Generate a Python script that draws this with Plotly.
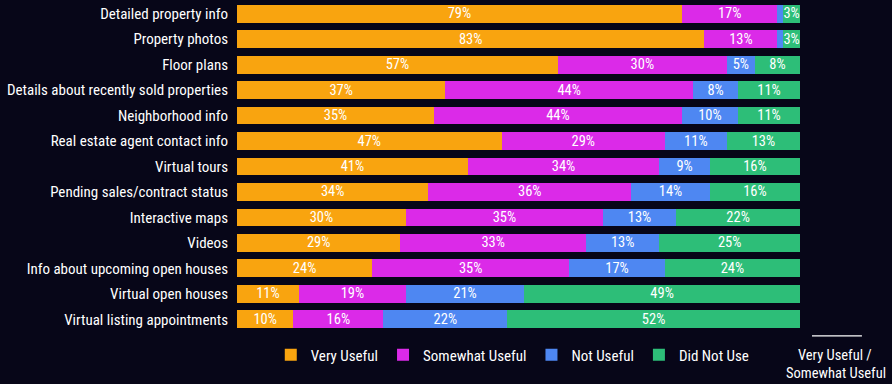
import plotly.graph_objects as go

categories = [
    "Detailed property info", "Property photos", "Floor plans",
    "Details about recently sold properties", "Neighborhood info",
    "Real estate agent contact info", "Virtual tours",
    "Pending sales/contract status", "Interactive maps", "Videos",
    "Info about upcoming open houses", "Virtual open houses",
    "Virtual listing appointments",
]
very_useful = [79, 83, 57, 37, 35, 47, 41, 34, 30, 29, 24, 11, 10]
somewhat_useful = [17, 13, 30, 44, 44, 29, 34, 36, 35, 33, 35, 19, 16]
not_useful = [1, 1, 5, 8, 10, 11, 9, 14, 13, 13, 17, 21, 22]
did_not_use = [3, 3, 8, 11, 11, 13, 16, 16, 22, 25, 24, 49, 52]
useful_total = [96, 96, 87, 81, 79, 76, 75, 70, 65, 62, 59, 30, 26]

series = [
    ("Very Useful", very_useful, "#F9A40F"),
    ("Somewhat Useful", somewhat_useful, "#DB2AE8"),
    ("Not Useful", not_useful, "#4E87F2"),
    ("Did Not Use", did_not_use, "#2DBE78"),
]

FONT = "Roboto Condensed, Roboto, sans-serif"
BG = "#070618"


def f(size):
    return dict(color="white", size=size, family=FONT)


fig = go.Figure()
for name, vals, color in series:
    fig.add_trace(go.Bar(
        y=categories, x=vals, name=name, orientation="h",
        marker=dict(color=color, line=dict(width=0)),
        text=[f"{v}%" if v >= 3 else "" for v in vals],
        textposition="inside", insidetextanchor="middle",
        constraintext="none", textangle=0,
        textfont=f(14.5),
        hoverinfo="skip",
    ))

# right-hand totals column
fig.add_trace(go.Scatter(
    y=categories, x=[106.5] * len(categories), mode="text",
    text=[f"{v}%" for v in useful_total],
    textfont=f(16.5),
    textposition="middle center", showlegend=False, cliponaxis=False,
    hoverinfo="skip",
))

fig.add_annotation(
    x=1.0618, y=-0.0725, xref="paper", yref="paper",
    text="Very Useful /", showarrow=False, font=f(14.5),
    xanchor="center", yanchor="middle",
)
fig.add_annotation(
    x=1.0635, y=-0.1239, xref="paper", yref="paper",
    text="Somewhat Useful", showarrow=False, font=f(14.5),
    xanchor="center", yanchor="middle",
)
fig.add_shape(type="line", xref="paper", yref="paper",
              x0=1.0213, x1=1.110, y0=-0.012, y1=-0.012,
              line=dict(color="white", width=1.2))

fig.update_layout(
    width=892, height=384,
    margin=dict(l=237, r=92, t=1, b=52),
    barmode="stack", bargap=0.3,
    paper_bgcolor=BG, plot_bgcolor=BG,
    font=dict(family=FONT, color="white", size=15),
    showlegend=True,
    legend=dict(orientation="h", x=0.06, xanchor="left", y=-0.02, yanchor="top",
                font=f(15),
                bgcolor="rgba(0,0,0,0)",
                traceorder="normal"),
    xaxis=dict(range=[0, 100], visible=False, fixedrange=True),
    yaxis=dict(range=[len(categories) - 0.5, -0.5], showgrid=False, zeroline=False,
               ticks="", tickfont=f(15), automargin=False,
               ticklabelstandoff=8),
)

fig.write_html("out.html", config={"displayModeBar": False},
               post_script="document.body.style.margin='0';document.body.style.background='" + BG + "';")
